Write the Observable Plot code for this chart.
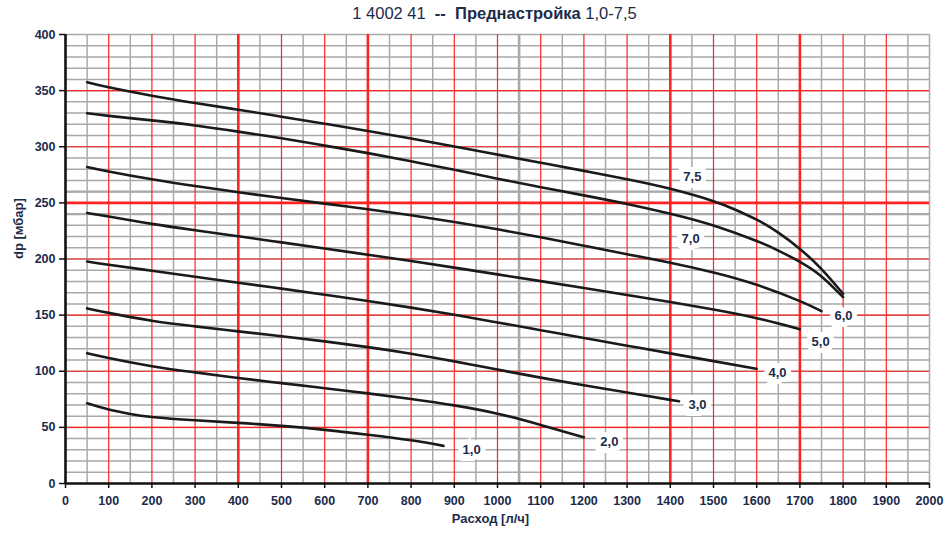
<!DOCTYPE html>
<html><head><meta charset="utf-8">
<script src="https://cdn.jsdelivr.net/npm/d3@7"></script>
<script src="https://cdn.jsdelivr.net/npm/@observablehq/plot@0.6"></script>
<style>
body{margin:0;background:#fff;}
#title{height:26px;line-height:27px;text-align:center;font-family:"Liberation Sans",Arial,sans-serif;font-size:16.5px;color:#1c2b4a;padding-left:40px;white-space:pre;}
#chart svg{display:block;}
</style></head><body>
<div id="title">1 4002 41  <b>--</b>  <b>Преднастройка</b> 1,0-7,5</div>
<div id="chart"></div>
<script>
// Series (preset values)
const series = ["7,5","7,0","6,0","5,0","4,0","3,0","2,0","1,0"];

// Flow [l/h] and dp [mbar] per preset
const q75 = [50,100,200,300,400,500,600,700,800,900,1000,1100,1200,1300,1400,1500,1550,1600,1650,1700,1750,1800];
const dp75 = [357.5,353,345.5,339,333,326.8,320.5,314,307.3,300.3,293,285.8,278.5,271,262.5,251.5,244,235,223.5,209,191,169];

const q70 = [50,100,200,300,400,500,600,700,800,900,1000,1100,1200,1300,1400,1500,1600,1650,1700,1750,1800];
const dp70 = [329.8,327.5,323.5,319,313.5,307.5,301,294.3,287,279.5,271.5,264,256.7,249,240.3,229.8,216,207.5,197.5,184.5,166];

const q60 = [50,100,200,300,400,500,600,700,800,900,1000,1100,1200,1300,1400,1500,1600,1700,1750];
const dp60 = [282,278,271,265,259.5,254.3,249.3,244.3,239,233,226.5,219.3,211.8,204.3,196.7,188,177,162.5,153.5];

const q50 = [50,100,200,300,400,500,600,700,800,900,1000,1100,1200,1300,1400,1500,1600,1700];
const dp50 = [241,237.8,231.3,225.6,220.2,214.8,209.3,203.8,198.2,192.3,186.3,180.3,174.2,168,161.7,155,147.3,137.5];

const q40 = [50,100,200,300,400,500,600,700,800,900,1000,1100,1200,1300,1400,1500,1600];
const dp40 = [197.8,194.8,189.6,184.2,178.9,173.6,168.2,162.6,156.7,150.3,143.5,136.6,129.7,122.8,115.9,109,102.2];

const q30 = [50,100,200,300,400,500,600,700,800,900,1000,1100,1200,1300,1400,1420];
const dp30 = [156,152,145,140,135.5,131.2,126.6,121.5,115.6,108.8,101.5,94.3,87.6,81,74.5,73.2];

const q20 = [50,100,200,300,400,500,600,700,800,900,1000,1100,1200];
const dp20 = [116,111.8,104.5,99,94,89.4,84.9,80.3,75.3,69.6,62.2,52.2,41.2];

const q10 = [50,100,150,200,300,400,500,600,700,800,875];
const dp10 = [71.4,66,62,59.3,56.3,54,51.3,47.8,43.5,38.5,33.5];

// Label anchor points (data coordinates)
const labelQ = [1451,1447,1801,1748,1648,1463,1259,940];
const labelDp = [273.5,218.3,149.7,126.5,99,70.4,37.4,30.3];

// Ticks and grid values
const xTicks = d3.range(0, 2001, 100);
const yTicks = d3.range(0, 401, 50);
const xGridGray = d3.range(50, 2000, 100).concat([2000]);
const xGridRed = d3.range(100, 2000, 100);
const xGridRedBold = [400, 700, 1400, 1700];
const xGridGrayBold = [1050];
const yGridGray = d3.range(10, 401, 10);
const yGridRed = d3.range(50, 400, 50);
const yGridRedBold = [250];
const yGridGrayBold = [240, 260];

const xLabel = "Расход [л/ч]";
const yLabel = "dp [мбар]";

const qs = [q75,q70,q60,q50,q40,q30,q20,q10];
const dps = [dp75,dp70,dp60,dp50,dp40,dp30,dp20,dp10];
const rows = [];
series.forEach((s, i) => qs[i].forEach((q, j) => rows.push({s, q, dp: dps[i][j]})));
const labels = series.map((s, i) => ({s, q: labelQ[i], dp: labelDp[i]}));

const GRAY = "#a9a9a9", RED = "#ff2323", INK = "#1c2b4a";

const chart = Plot.plot({
  width: 949, height: 508,
  marginLeft: 65, marginRight: 20, marginTop: 8, marginBottom: 51,
  style: {fontFamily: "'Liberation Sans', Arial, sans-serif", fontSize: "12.5px", fontWeight: "bold", background: "#fff"},
  x: {domain: [0, 2000]},
  y: {domain: [0, 400]},
  marks: [
    Plot.ruleX(xGridGray, {stroke: GRAY, strokeWidth: 1.5}),
    Plot.ruleY(yGridGray, {stroke: GRAY, strokeWidth: 1.5}),
    Plot.ruleX(xGridGrayBold, {stroke: GRAY, strokeWidth: 2.6}),
    Plot.ruleY(yGridGrayBold, {stroke: GRAY, strokeWidth: 2.4}),
    Plot.ruleX(xGridRed, {stroke: RED, strokeWidth: 1.2}),
    Plot.ruleY(yGridRed, {stroke: RED, strokeWidth: 1.2}),
    Plot.ruleX(xGridRedBold, {stroke: RED, strokeWidth: 2.6}),
    Plot.ruleY(yGridRedBold, {stroke: RED, strokeWidth: 2.6}),
    Plot.line(rows, {x: "q", y: "dp", z: "s", curve: "natural", stroke: "#1a1a1a", strokeWidth: 2.6}),
    Plot.text(labels, {x: "q", y: "dp", text: "s", fill: INK, stroke: "white", strokeWidth: 10, strokeLinejoin: "miter", fontSize: 13, fontWeight: "bold"}),
    Plot.ruleX([0], {stroke: "#111", strokeWidth: 2.6}),
    Plot.ruleY([0], {stroke: "#111", strokeWidth: 2.6}),
    Plot.axisX({ticks: xTicks, tickFormat: d => String(d), tickSize: 5, tickPadding: 8, stroke: "#111", strokeWidth: 1.5, fill: INK, label: null}),
    Plot.axisY({ticks: yTicks, tickFormat: d => String(d), tickSize: 6, tickPadding: 4, stroke: "#111", strokeWidth: 1.5, fill: INK, label: null}),
    Plot.text([xLabel], {frameAnchor: "bottom", dy: 39, dx: -7, fill: INK, fontSize: 13, fontWeight: "bold"}),
    Plot.text([yLabel], {frameAnchor: "left", dx: -47, rotate: -90, fill: INK, fontSize: 13, fontWeight: "bold"})
  ]
});
document.getElementById("chart").appendChild(chart);
</script>
</body></html>
